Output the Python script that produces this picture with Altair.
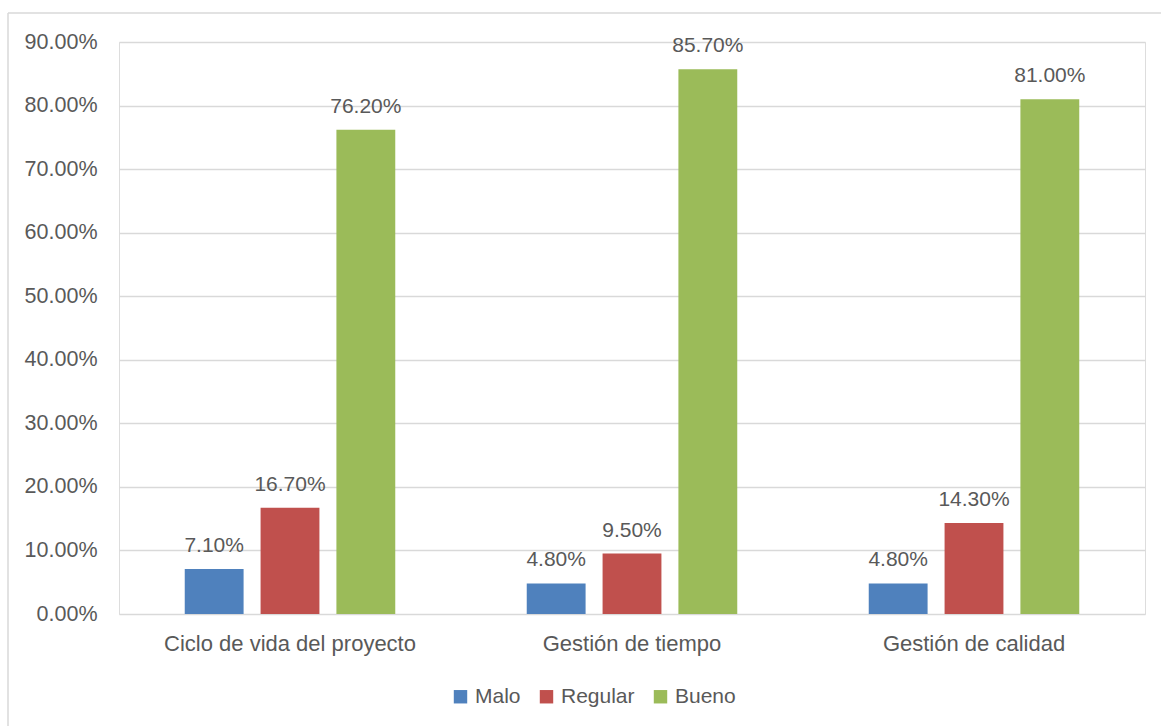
import altair as alt
import pandas as pd

categories = ["Ciclo de vida del proyecto", "Gestión de tiempo", "Gestión de calidad"]
series = ["Malo", "Regular", "Bueno"]
malo = [0.071, 0.048, 0.048]
regular = [0.167, 0.095, 0.143]
bueno = [0.762, 0.857, 0.810]
colors = ["#4F81BD", "#C0504D", "#9BBB59"]
y_ticks = [0, 0.1, 0.2, 0.3, 0.4, 0.5, 0.6, 0.7, 0.8, 0.9]

rows = []
for i, c in enumerate(categories):
    for s, vals in zip(series, [malo, regular, bueno]):
        rows.append({"cat": c, "serie": s, "value": vals[i]})
df = pd.DataFrame(rows)

FONT = "Liberation Sans"
FS = 21
TXT = "#595959"
GRID = "#D9D9D9"

x = alt.X("cat:N", sort=categories, title=None,
          scale=alt.Scale(paddingInner=0, paddingOuter=0),
          axis=alt.Axis(labelAngle=0, labelFont=FONT, labelFontSize=22, labelColor=TXT,
                        labelPadding=19, labelLimit=0, ticks=False, domain=False))
xo = alt.XOffset("serie:N", sort=series,
                 scale=alt.Scale(paddingInner=0.224, paddingOuter=0.867))
y = alt.Y("value:Q", title=None,
          scale=alt.Scale(domain=[0, 0.9], nice=False),
          axis=alt.Axis(values=y_ticks, format=".2%", labelFont=FONT, labelFontSize=21.5,
                        labelColor=TXT, labelPadding=22, ticks=False, domain=False,
                        gridColor=GRID, gridWidth=1.5))

base = alt.Chart(df)
bars = base.mark_bar().encode(
    x=x, xOffset=xo, y=y,
    color=alt.Color("serie:N", sort=series, title=None,
                    scale=alt.Scale(domain=series, range=colors),
                    legend=alt.Legend(orient="none", direction="horizontal",
                                      legendX=331, legendY=644,
                                      symbolType="square", symbolSize=180,
                                      symbolStrokeWidth=0,
                                      labelFont=FONT, labelFontSize=FS, labelColor=TXT,
                                      columnPadding=15, labelOffset=4)),
)
labels = base.mark_text(baseline="bottom", dy=-13, font=FONT, fontSize=FS, color=TXT).encode(
    x=x, xOffset=xo, y=y,
    text=alt.Text("value:Q", format=".2%"),
)

# outer chart frame
frame_v = alt.Chart(pd.DataFrame({"k": [0]})).mark_rule(color=GRID, strokeWidth=1.5).encode(
    x=alt.value(-111), y=alt.value(-29), y2=alt.value(700))
frame_h = alt.Chart(pd.DataFrame({"k": [0]})).mark_rule(color=GRID, strokeWidth=1.5).encode(
    x=alt.value(-111), x2=alt.value(1050), y=alt.value(-29))

chart = alt.layer(bars, labels, frame_v, frame_h).properties(
    width=1026, height=572,
    autosize=alt.AutoSizeParams(type="none"),
    padding={"left": 119, "top": 42, "right": 16, "bottom": 112},
).configure_view(stroke=None).configure(background="white")

chart.save("out.html", embed_options={"renderer": "svg", "actions": False})
